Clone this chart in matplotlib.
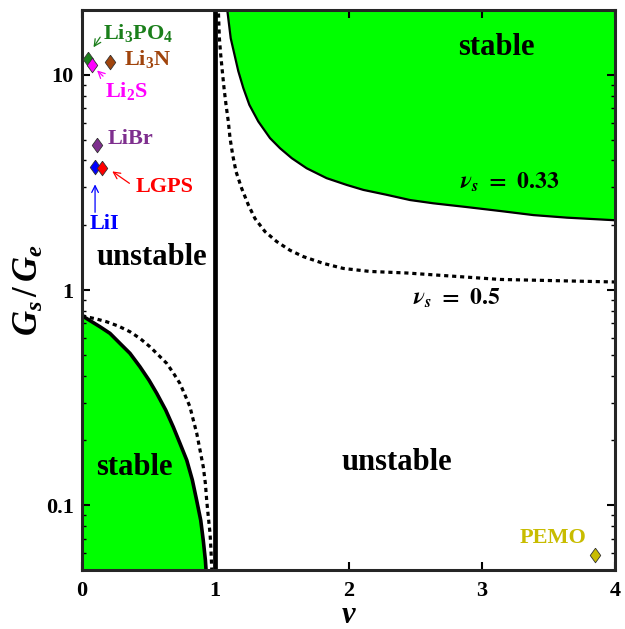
import matplotlib
matplotlib.use('Agg')
import matplotlib.pyplot as plt
from matplotlib.ticker import FixedLocator, LogLocator, NullFormatter

plt.rcParams['font.family'] = 'Liberation Serif'
plt.rcParams['font.weight'] = 'bold'
plt.rcParams['mathtext.fontset'] = 'custom'
plt.rcParams['mathtext.rm'] = 'Liberation Serif:bold'
plt.rcParams['mathtext.bf'] = 'Liberation Serif:bold'
plt.rcParams['mathtext.it'] = 'Liberation Serif:italic:bold'

# stability boundaries (v, Gs/Ge)
v_left_033 = [0, 0.135, 0.21, 0.285, 0.36, 0.435, 0.503, 0.561, 0.628, 0.685, 0.735,
              0.786, 0.828, 0.861, 0.891, 0.910, 0.926, 0.931, 0.94]
g_left_033 = [0.76, 0.675, 0.629, 0.565, 0.508, 0.44, 0.381, 0.331, 0.277, 0.231, 0.194,
              0.162, 0.131, 0.105, 0.0851, 0.0687, 0.0555, 0.05, 0.045]
v_left_05 = [0, 0.035, 0.11, 0.185, 0.273, 0.36, 0.435, 0.51, 0.573, 0.636, 0.685, 0.735,
             0.773, 0.81, 0.835, 0.861, 0.886, 0.910, 0.926, 0.936, 0.948, 0.961, 0.968,
             0.973, 0.977]
g_left_05 = [0.76, 0.751, 0.733, 0.712, 0.68, 0.64, 0.596, 0.545, 0.499, 0.456, 0.412, 0.368,
             0.325, 0.287, 0.249, 0.216, 0.18, 0.151, 0.126, 0.105, 0.0883, 0.0739, 0.0618,
             0.0516, 0.046]

v_right_033 = [1.086, 1.116, 1.173, 1.211, 1.256, 1.323, 1.411, 1.486, 1.574, 1.686, 1.836,
               1.986, 2.111, 2.287, 2.461, 2.636, 2.887, 3.137, 3.387, 3.637, 4.0]
g_right_033 = [21, 14.8, 10.4, 8.67, 7.25, 6.07, 5.08, 4.56, 4.10, 3.68, 3.31,
               3.08, 2.92, 2.77, 2.62, 2.53, 2.43, 2.33, 2.23, 2.17, 2.11]
v_right_05 = [1.022, 1.031, 1.041, 1.053, 1.066, 1.081, 1.098, 1.111, 1.131, 1.156, 1.198,
              1.248, 1.298, 1.373, 1.461, 1.561, 1.661, 1.811, 1.961, 2.161, 2.437, 3.137, 4.0]
g_right_05 = [21, 14.8, 12.4, 10.4, 8.67, 7.25, 6.07, 5.08, 4.24, 3.55, 2.97,
              2.49, 2.15, 1.87, 1.68, 1.53, 1.43, 1.33, 1.26, 1.22, 1.20, 1.12, 1.09]

# materials
materials = ['Li$_3$PO$_4$', 'Li$_3$N', 'Li$_2$S', 'LiBr', 'LiI', 'LGPS', 'PEMO']
mat_v = [0.047, 0.21, 0.073, 0.11, 0.098, 0.153, 3.85]
mat_g = [11.9, 11.5, 11.1, 4.73, 3.75, 3.68, 0.0585]
mat_colors = ['#1b7f1b', '#a0440c', '#ff00ff', '#7e2f8e', '#0000ff', '#ff0000', '#c8bc00']

x_ticks = [0, 1, 2, 3, 4]
y_ticks = [0.1, 1, 10]
y_tick_labels = ['0.1', '1', '10']

fig = plt.figure(figsize=(6.25, 6.29), dpi=100)
ax = fig.add_axes([0.1312, 0.0938, 0.8528, 0.8902])
ax.set_yscale('log')
ax.set_xlim(0, 4)
ax.set_ylim(0.05, 20)

lime = '#00ff00'
ax.fill_between(v_left_033, 1e-3, g_left_033, color=lime, lw=0)
ax.fill_between(v_right_033, g_right_033, 100, color=lime, lw=0)

ax.plot(v_left_033, g_left_033, color='k', lw=2.6, solid_joinstyle='round')
ax.plot(v_right_033, g_right_033, color='k', lw=1.6, solid_joinstyle='round')
dots = (0, (1.3, 1.2))
ax.plot(v_left_05, g_left_05, color='k', lw=2.3, ls=dots, dash_capstyle='butt')
ax.plot(v_right_05, g_right_05, color='k', lw=2.3, ls=dots, dash_capstyle='butt')
ax.axvline(1, color='k', lw=3.4)

diamond = [(0, 1), (0.72, 0), (0, -1), (-0.72, 0), (0, 1)]
for v, g, c in zip(mat_v, mat_g, mat_colors):
    ax.plot(v, g, marker=diamond, ms=10.5, color=c, mec='#333333', mew=0.6, zorder=5)

# labels of materials
lab_pos = [(0.42, 15.6, 'center'), (0.315, 11.9, 'left'), (0.173, 8.4, 'left'),
           (0.195, 5.05, 'left'), (0.06, 2.02, 'left'), (0.405, 3.0, 'left'),
           (3.535, 0.0706, 'center')]
for name, (x, y, ha), c in zip(materials, lab_pos, mat_colors):
    ax.text(x, y, name, color=c, fontsize=16, fontweight='bold', ha=ha, va='center')

arrows = [((0.148, 15.35), (0.075, 13.1), mat_colors[0]),
          ((0.173, 9.66), (0.098, 10.7), mat_colors[2]),
          ((0.098, 2.23), (0.098, 3.19), mat_colors[4]),
          ((0.373, 3.08), (0.21, 3.62), mat_colors[5])]
for tail, head, c in arrows:
    ax.annotate('', xy=head, xytext=tail,
                arrowprops=dict(arrowstyle='->', color=c, lw=0.9, mutation_scale=12))

big = dict(fontsize=22, fontweight='bold', ha='center', va='center')
ax.text(0.525, 1.42, 'unstable', **big)
ax.text(3.11, 13.4, 'stable', **big)
ax.text(2.364, 0.158, 'unstable', **big)
ax.text(0.39, 0.150, 'stable', **big)

ax.text(3.21, 3.18, r'$\boldsymbol{\nu_s}\ \mathbf{=\ 0.33}$', fontsize=17,
        ha='center', va='center', math_fontfamily='stix')
ax.text(2.81, 0.918, r'$\boldsymbol{\nu_s}\ \mathbf{=\ 0.5}$', fontsize=17,
        ha='center', va='center', math_fontfamily='stix')

ax.set_xticks(x_ticks)
ax.set_xticklabels([str(t) for t in x_ticks])
ax.yaxis.set_major_locator(FixedLocator(y_ticks))
ax.set_yticklabels(y_tick_labels)
ax.yaxis.set_minor_locator(LogLocator(base=10, subs=range(2, 10)))
ax.yaxis.set_minor_formatter(NullFormatter())
ax.tick_params(which='both', direction='in', top=True, right=True, labelsize=16, width=1.5)
ax.tick_params(which='major', length=6)
ax.tick_params(which='minor', length=3, width=1)
ax.tick_params(axis='x', pad=8)
ax.tick_params(axis='y', pad=6)
for lab in ax.get_xticklabels() + ax.get_yticklabels():
    lab.set_fontweight('bold')
for s in ax.spines.values():
    s.set_linewidth(2.2)
    s.set_color('#262626')

ax.set_xlabel(r'$v$', fontsize=22, labelpad=0)
ax.set_ylabel(r'$G_s\,/\,G_e$', fontsize=25, labelpad=0)

fig.savefig('out.png', dpi=100)
